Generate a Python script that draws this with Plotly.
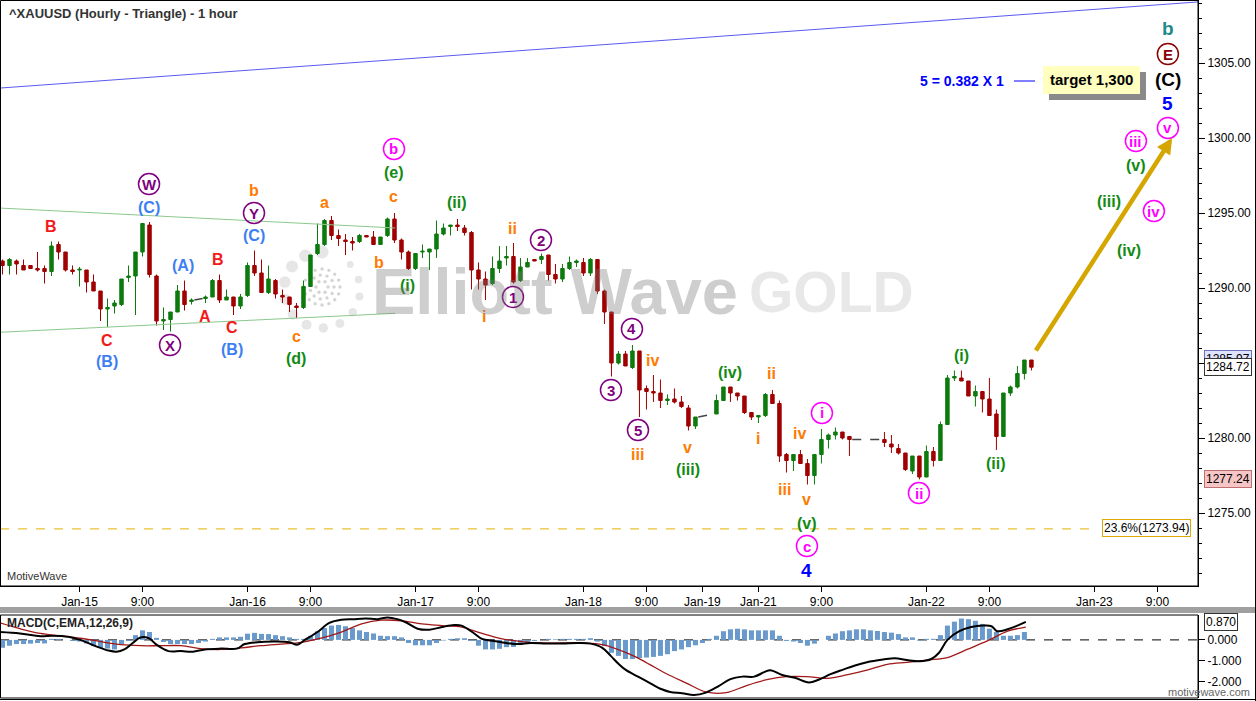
import math
import plotly.graph_objects as go

W, H = 1256, 701

# ---------------- DATA ----------------
bar_index = [0, 1, 2, 3, 4, 5, 6, 7, 8, 9, 10, 11, 12, 13, 14, 15, 16, 17, 18, 19,
             20, 21, 22, 23, 24, 25, 26, 27, 29, 30, 31, 32, 33, 34, 35, 36, 37, 38, 39, 40,
             41, 42, 43, 44, 45, 46, 47, 48, 49, 50, 51, 52, 53, 54, 55, 56, 57, 58, 59, 60,
             61, 62, 63, 64, 65, 66, 67, 68, 69, 70, 71, 72, 73, 74, 75, 76, 77, 78, 79, 80,
             81, 82, 83, 84, 85, 86, 87, 88, 89, 90, 91, 92, 93, 94, 95, 96, 97, 98, 99, 102,
             103, 104, 105, 106, 107, 108, 109, 110, 111, 112, 113, 114, 115, 116, 117, 118, 119, 120, 121, 126,
             127, 128, 129, 130, 131, 132, 133, 134, 135, 136, 137, 138, 139, 140, 141, 142, 143, 144, 145, 146,
             147]
open_ = [1291.8, 1291.5, 1291.8, 1291.5, 1291.5, 1291.3, 1291.3, 1291.1, 1292.9, 1292.4, 1291.2, 1291.2, 1291.2, 1290.4, 1289.8, 1288.6, 1288.8, 1288.9, 1290.7, 1290.8,
         1292.4, 1294.2, 1290.8, 1287.8, 1287.9, 1288.4, 1289.8, 1289.1, 1289.3, 1289.4, 1290.5, 1289.2, 1289.4, 1288.8, 1289.5, 1291.5, 1291.0, 1289.7, 1290.5, 1289.5,
         1289.4, 1288.8, 1288.7, 1290.1, 1292.3, 1292.9, 1294.5, 1293.5, 1293.2, 1293.1, 1293.1, 1293.5, 1293.4, 1292.9, 1293.5, 1294.6, 1293.2, 1292.4, 1291.3, 1292.4,
         1292.4, 1292.6, 1293.6, 1294.1, 1294.2, 1294.0, 1293.7, 1291.2, 1290.6, 1290.3, 1291.3, 1292.0, 1292.1, 1290.5, 1291.4, 1291.9, 1291.9, 1292.2, 1290.9, 1290.6,
         1291.3, 1291.7, 1291.7, 1291.0, 1291.9, 1289.8, 1288.4, 1285.0, 1285.6, 1284.7, 1285.8, 1283.3, 1283.1, 1283.0, 1282.5, 1282.6, 1282.4, 1282.0, 1280.8, 1281.6,
         1282.5, 1283.4, 1283.0, 1282.8, 1281.7, 1281.4, 1281.5, 1282.9, 1282.3, 1278.9, 1278.5, 1278.9, 1278.3, 1277.5, 1278.9, 1279.9, 1280.2, 1280.4, 1280.1, 1279.9,
         1279.6, 1279.3, 1279.0, 1277.8, 1278.8, 1277.4, 1279.1, 1278.5, 1280.9, 1284.0, 1284.0, 1283.8, 1282.8, 1283.1, 1282.6, 1281.6, 1280.1, 1283.0, 1283.4, 1284.3,
         1285.2]
high = [1291.9, 1292.0, 1291.9, 1291.9, 1291.5, 1292.4, 1291.5, 1293.1, 1293.1, 1292.4, 1291.5, 1291.4, 1291.2, 1290.9, 1289.8, 1289.3, 1289.2, 1290.6, 1291.5, 1292.4,
        1294.3, 1294.4, 1290.9, 1288.7, 1288.4, 1290.2, 1290.5, 1289.3, 1289.5, 1290.6, 1290.9, 1289.9, 1289.4, 1289.6, 1291.7, 1292.5, 1291.9, 1291.5, 1290.6, 1289.9,
        1289.4, 1289.0, 1290.5, 1292.2, 1294.3, 1294.6, 1294.8, 1293.9, 1293.6, 1293.4, 1293.6, 1293.5, 1293.8, 1293.4, 1294.7, 1295.0, 1293.3, 1292.5, 1292.3, 1292.9,
        1292.6, 1294.5, 1294.3, 1294.2, 1294.6, 1294.2, 1293.8, 1291.7, 1291.1, 1292.1, 1292.8, 1292.8, 1293.0, 1292.0, 1292.0, 1291.9, 1292.3, 1292.2, 1291.6, 1291.6,
        1292.1, 1291.9, 1292.0, 1292.0, 1291.9, 1289.9, 1288.4, 1285.8, 1285.8, 1286.2, 1285.8, 1283.5, 1284.2, 1283.9, 1282.9, 1283.3, 1282.8, 1282.2, 1281.4, 1282.9,
        1283.4, 1283.4, 1283.0, 1282.8, 1281.7, 1281.5, 1283.0, 1283.2, 1282.5, 1279.0, 1278.9, 1279.2, 1278.6, 1278.9, 1280.6, 1280.3, 1280.7, 1280.4, 1280.1, 1280.4,
        1280.2, 1279.6, 1279.0, 1278.8, 1278.8, 1279.5, 1279.4, 1281.1, 1284.2, 1284.5, 1284.5, 1283.8, 1283.5, 1283.1, 1284.0, 1281.9, 1283.0, 1283.5, 1284.8, 1285.2,
        1285.2]
low = [1290.9, 1290.9, 1290.9, 1291.2, 1291.3, 1291.1, 1290.3, 1290.8, 1291.9, 1291.1, 1290.9, 1290.1, 1289.7, 1289.8, 1287.8, 1287.4, 1288.3, 1288.8, 1290.4, 1288.2,
       1292.1, 1290.7, 1287.5, 1287.2, 1287.1, 1288.4, 1288.5, 1288.9, 1289.0, 1289.4, 1289.0, 1289.2, 1288.2, 1288.6, 1289.4, 1290.8, 1289.7, 1289.6, 1289.3, 1289.0,
       1288.4, 1288.0, 1288.6, 1290.1, 1292.2, 1292.8, 1293.2, 1292.8, 1292.2, 1292.5, 1293.0, 1293.4, 1292.9, 1292.9, 1293.4, 1293.0, 1291.9, 1291.2, 1291.2, 1292.0,
       1291.2, 1292.0, 1293.5, 1293.5, 1293.8, 1293.5, 1289.9, 1289.9, 1289.2, 1290.2, 1291.0, 1291.5, 1290.3, 1290.4, 1291.4, 1291.8, 1291.6, 1290.5, 1290.3, 1290.4,
       1291.2, 1291.4, 1290.8, 1290.8, 1289.6, 1287.6, 1284.1, 1284.9, 1284.8, 1284.6, 1281.4, 1281.9, 1282.4, 1282.0, 1282.2, 1282.3, 1282.0, 1280.5, 1280.6, 1281.6,
       1282.5, 1282.4, 1282.5, 1281.6, 1281.2, 1281.0, 1281.4, 1282.3, 1278.4, 1277.7, 1277.8, 1278.3, 1276.9, 1276.9, 1278.3, 1279.3, 1279.9, 1279.9, 1278.8, 1279.4,
       1279.0, 1278.9, 1277.8, 1277.6, 1277.24, 1277.4, 1278.1, 1278.5, 1280.9, 1283.8, 1283.8, 1282.8, 1282.1, 1281.7, 1281.5, 1279.2, 1280.1, 1282.8, 1283.3, 1283.9,
       1284.5]
close = [1291.5, 1291.9, 1291.6, 1291.2, 1291.3, 1291.2, 1291.1, 1292.8, 1292.4, 1291.2, 1291.1, 1291.25, 1290.4, 1289.8, 1288.6, 1288.7, 1289.0, 1290.6, 1290.8, 1292.4,
         1294.3, 1290.9, 1287.8, 1287.9, 1288.4, 1289.8, 1288.9, 1289.2, 1289.4, 1290.5, 1289.2, 1289.4, 1288.8, 1289.4, 1291.5, 1291.0, 1289.7, 1290.6, 1289.6, 1289.4,
         1288.9, 1288.7, 1290.1, 1292.2, 1292.9, 1294.5, 1293.5, 1293.3, 1293.1, 1293.0, 1293.5, 1293.4, 1292.9, 1293.4, 1294.6, 1293.2, 1292.4, 1291.3, 1292.3, 1292.45,
         1292.6, 1293.6, 1294.0, 1294.2, 1294.1, 1293.7, 1291.2, 1290.6, 1290.2, 1291.3, 1291.8, 1292.1, 1290.4, 1291.4, 1291.7, 1291.8, 1292.1, 1290.9, 1290.6, 1291.3,
         1291.7, 1291.8, 1291.0, 1291.9, 1289.8, 1288.4, 1285.0, 1285.6, 1284.8, 1285.8, 1283.2, 1283.1, 1283.0, 1282.5, 1282.6, 1282.4, 1282.1, 1280.8, 1281.4, 1282.5,
         1283.4, 1283.0, 1282.8, 1281.7, 1281.4, 1281.5, 1282.9, 1282.3, 1278.8, 1278.5, 1278.9, 1278.3, 1277.5, 1278.9, 1279.9, 1280.2, 1280.4, 1280.0, 1279.9, 1279.7,
         1279.4, 1279.0, 1277.9, 1278.8, 1277.4, 1279.1, 1278.5, 1280.9, 1284.0, 1284.1, 1283.8, 1282.8, 1283.1, 1282.6, 1281.5, 1280.1, 1283.0, 1283.4, 1284.3, 1285.2,
         1284.72]

# missing-bar gaps (bar before gap, bar after gap)
gap_pairs = [(27, 29), (99, 102), (121, 126)]

# MACD histogram (one value per bar 0..146)
macd_hist = [-0.38, -0.28, -0.2, -0.2, -0.18, -0.15, -0.17, 0.05, 0.05, 0.0,
             -0.05, -0.08, -0.17, -0.3, -0.38, -0.42, -0.46, -0.2, -0.05, 0.23,
             0.46, 0.38, 0.1, -0.1, -0.2, -0.2, -0.2, -0.2, -0.15, -0.08,
             0.05, 0.12, 0.12, 0.12, 0.15, 0.3, 0.34, 0.29, 0.28, 0.23,
             0.18, 0.12, 0.05, 0.05, 0.2, 0.42, 0.57, 0.69, 0.72, 0.66,
             0.57, 0.46, 0.38, 0.31, 0.2, 0.18, 0.18, 0.12, -0.15, -0.26,
             -0.26, -0.26, -0.15, -0.03, 0.05, 0.08, 0.08, -0.05, -0.28, -0.46,
             -0.46, -0.43, -0.35, -0.34, -0.23, -0.15, -0.05, 0.0, 0.05, 0.03,
             0.05, 0.05, 0.05, 0.05, 0.08, -0.08, -0.3, -0.62, -0.77, -0.92,
             -0.92, -0.88, -0.85, -0.82, -0.77, -0.69, -0.54, -0.46, -0.35, -0.26,
             -0.15, 0.05, 0.2, 0.42, 0.51, 0.54, 0.51, 0.46, 0.46, 0.46,
             0.46, 0.2, -0.05, -0.08, -0.15, -0.28, -0.18, 0.0, 0.2, 0.31,
             0.42, 0.46, 0.51, 0.51, 0.46, 0.43, 0.38, 0.35, 0.28, 0.12,
             0.12, -0.03, 0.05, 0.05, 0.23, 0.69, 0.88, 1.03, 1.0, 0.92,
             0.77, 0.54, 0.38, 0.2, 0.2, 0.23, 0.38]

macd_x = [-0.36, 2.5, 5.4, 7.1, 9.4, 11.1, 13.4, 15.1, 16.3, 17.4, 18.6, 19.7, 20.9, 22.0, 23.7,
          25.5, 27.2, 28.9, 31.2, 33.5, 34.6, 36.4, 38.7, 41.0, 42.1, 43.2, 45.0, 46.7, 48.4, 50.1,
          51.9, 53.6, 55.0, 56.4, 57.6, 59.3, 61.0, 62.8, 64.5, 65.6, 67.4, 68.5, 70.2, 72.0, 73.7,
          75.4, 77.7, 80.0, 82.3, 84.0, 85.7, 86.9, 88.0, 89.1, 90.8, 92.5, 94.2, 95.4, 97.1, 98.8,
          100.5, 102.3, 104.0, 105.7, 107.4, 108.9, 109.7, 111.4, 113.2, 115.2, 116.6, 118.3, 120.1, 121.8, 123.5,
          125.8, 127.5, 129.2, 131.0, 132.7, 133.8, 135.0, 136.7, 138.4, 140.1, 141.3, 142.1, 143.6, 145.0, 146.2]
macd_line = [0.38, 0.31, 0.18, 0.2, 0.15, 0.0, -0.31, -0.51, -0.57, -0.46, -0.15, 0.12, 0.08, -0.23, -0.54,
             -0.54, -0.57, -0.46, -0.42, -0.42, -0.2, -0.11, -0.08, -0.11, -0.23, 0.0, 0.38, 0.82, 0.97, 1.0,
             1.03, 1.0, 1.08, 1.0, 0.85, 0.54, 0.49, 0.62, 0.72, 0.69, 0.31, 0.05, -0.05, -0.15, -0.2,
             -0.15, -0.17, -0.17, -0.15, -0.18, -0.38, -0.77, -1.15, -1.46, -1.77, -2.08, -2.38, -2.51, -2.57, -2.66,
             -2.54, -2.23, -1.89, -1.77, -1.77, -1.54, -1.46, -1.69, -1.82, -2.05, -1.92, -1.65, -1.43, -1.23, -1.08,
             -0.95, -0.88, -0.97, -1.03, -0.92, -0.62, 0.0, 0.42, 0.62, 0.69, 0.66, 0.42, 0.51, 0.69, 0.87]

signal_x = [-0.36, 2.5, 5.4, 8.2, 11.1, 14.0, 16.9, 19.7, 22.6, 25.5, 28.3, 31.2, 34.1, 36.9, 39.8,
            42.7, 45.5, 48.4, 51.3, 54.1, 57.0, 59.9, 62.8, 65.6, 68.5, 71.4, 74.2, 77.1, 80.0, 82.8,
            85.7, 89.6, 91.9, 94.8, 97.7, 100.5, 103.4, 106.3, 109.2, 112.0, 114.9, 117.8, 120.6, 123.5, 126.4,
            129.2, 132.1, 135.0, 137.8, 140.7, 143.6, 146.2]
signal_line = [0.82, 0.54, 0.31, 0.2, 0.08, -0.08, -0.23, -0.28, -0.28, -0.28, -0.42, -0.46, -0.38, -0.28, -0.2,
               -0.12, 0.08, 0.38, 0.77, 0.95, 0.92, 0.77, 0.69, 0.62, 0.31, 0.05, -0.08, -0.15, -0.15, -0.15,
               -0.23, -0.69, -1.08, -1.62, -2.08, -2.51, -2.54, -2.2, -1.92, -1.77, -1.77, -1.85, -1.69, -1.46, -1.18,
               -1.08, -0.97, -0.85, -0.46, -0.05, 0.42, 0.62]

tick_pos = [11, 20, 35, 44, 59, 68, 83, 92, 100, 108, 117, 132, 141, 156, 165]
tick_text = ["Jan-15", "9:00", "Jan-16", "9:00", "Jan-17", "9:00", "Jan-18", "9:00",
             "Jan-19", "Jan-21", "9:00", "Jan-22", "9:00", "Jan-23", "9:00"]
price_ticks = [1275, 1280, 1285, 1290, 1295, 1300, 1305]
price_minor = [1271, 1272, 1273, 1274, 1276, 1277, 1278, 1279, 1281, 1282, 1283, 1284, 1286, 1287, 1288, 1289,
               1291, 1292, 1293, 1294, 1296, 1297, 1298, 1299, 1301, 1302, 1303, 1304, 1306, 1307, 1308, 1309]
macd_ticks = [0, -1, -2]

# trend lines (bar index, price)
blue_line_x, blue_line_y = [-0.36, 170.8], [1303.33, 1309.07]
upper_tl_x, upper_tl_y = [-0.36, 56.1], [1295.33, 1294.0]
lower_tl_x, lower_tl_y = [-0.36, 56.1], [1287.05, 1288.31]
fib_level = 1273.94
fib_end = 156.5
target_arrow = ((147.5, 1285.73), (167.1, 1300.0))
last_price = 1284.72
marker_low = 1277.24
macd_last = 0.870

# wave labels: text, bar index, price, colour key, circled, size
wave_labels = [
    ("B", 6.93, 1294.07, "red", False, 16), ("C", 14.93, 1286.53, "red", False, 16),
    ("(B)", 14.93, 1285.07, "lblue", False, 16), ("W", 20.93, 1296.93, "purple", True, 15),
    ("(C)", 20.93, 1295.4, "lblue", False, 16), ("(A)", 25.79, 1291.47, "lblue", False, 16),
    ("X", 23.93, 1286.2, "purple", True, 15), ("B", 30.79, 1291.93, "red", False, 16),
    ("A", 28.93, 1288.07, "red", False, 16), ("C", 32.79, 1287.4, "red", False, 16),
    ("(B)", 32.79, 1285.93, "lblue", False, 16), ("b", 35.93, 1296.47, "orange", False, 16),
    ("Y", 35.93, 1295.0, "purple", True, 15), ("(C)", 35.93, 1293.53, "lblue", False, 16),
    ("a", 45.93, 1295.73, "orange", False, 16), ("c", 41.93, 1286.8, "orange", False, 16),
    ("(d)", 41.93, 1285.33, "green", False, 16), ("b", 55.93, 1299.27, "magenta", True, 15),
    ("(e)", 55.93, 1297.73, "green", False, 16), ("c", 55.93, 1296.13, "orange", False, 16),
    ("b", 53.79, 1291.73, "orange", False, 16), ("(i)", 57.93, 1290.2, "green", False, 16),
    ("(ii)", 64.93, 1295.73, "green", False, 16), ("i", 68.79, 1288.13, "orange", False, 16),
    ("ii", 72.93, 1294.0, "orange", False, 16), ("1", 72.93, 1289.4, "purple", True, 15),
    ("2", 76.93, 1293.2, "purple", True, 15), ("3", 86.93, 1283.2, "purple", True, 15),
    ("4", 89.93, 1287.27, "purple", True, 15), ("iv", 92.93, 1285.2, "orange", False, 16),
    ("5", 90.79, 1280.53, "purple", True, 15), ("iii", 90.79, 1278.87, "orange", False, 16),
    ("v", 97.93, 1279.4, "orange", False, 16), ("(iii)", 97.93, 1277.93, "green", False, 16),
    ("(iv)", 103.93, 1284.4, "green", False, 16), ("ii", 109.93, 1284.33, "orange", False, 16),
    ("i", 107.93, 1280.0, "orange", False, 16), ("iii", 111.79, 1276.6, "orange", False, 16),
    ("iv", 113.93, 1280.33, "orange", False, 16), ("v", 114.93, 1275.87, "orange", False, 16),
    ("(v)", 114.93, 1274.27, "green", False, 16), ("c", 114.93, 1272.8, "magenta", True, 15),
    ("4", 114.93, 1271.2, "blue", False, 19), ("i", 117.07, 1281.67, "magenta", True, 15),
    ("ii", 130.93, 1276.33, "magenta", True, 15), ("(i)", 137.07, 1285.53, "green", False, 16),
    ("(ii)", 141.93, 1278.33, "green", False, 16), ("iii", 161.93, 1299.8, "magenta", True, 15),
    ("(v)", 161.93, 1298.2, "green", False, 16), ("(iii)", 158.07, 1295.8, "green", False, 16),
    ("iv", 164.5, 1295.13, "magenta", True, 15), ("(iv)", 160.93, 1292.47, "green", False, 16),
    ("b", 166.5, 1307.33, "teal", False, 19), ("E", 166.5, 1305.6, "darkred", True, 15),
    ("(C)", 166.5, 1303.87, "black", False, 19), ("5", 166.5, 1302.27, "blue", False, 19),
    ("v", 166.5, 1300.67, "magenta", True, 15),
]

# ---------------- STYLE ----------------
COL = {"red": "#f21a1a", "lblue": "#3d7ff2", "purple": "#800080", "orange": "#ff7a00",
       "green": "#128a12", "magenta": "#ff00ff", "blue": "#0000ff", "teal": "#1e8a8a",
       "darkred": "#8b0000", "black": "#000000"}
UP, DOWN = "#0d7a0d", "#a00000"
FONT = "Liberation Sans, Arial, sans-serif"

X_RANGE = [-0.36, 170.8]
PLOT_R = 1198
MAIN_BOT = 586
MACD_TOP, MACD_BOT = 615, 698


def px(x):
    return x / W


def py(y):
    return 1 - y / H


def paper_text(x, y, text, size=12, color="#000", xanchor="center", **kw):
    d = dict(x=px(x), y=py(y), xref="paper", yref="paper", text=text, showarrow=False,
             xanchor=xanchor, yanchor="middle", font=dict(family=FONT, size=size, color=color))
    d.update(kw)
    return d


fig = go.Figure()

# trend lines
fig.add_trace(go.Scatter(x=blue_line_x, y=blue_line_y, mode="lines",
                         line=dict(color="#5a5af0", width=1), hoverinfo="skip"))
fig.add_trace(go.Scatter(x=upper_tl_x, y=upper_tl_y, mode="lines",
                         line=dict(color="#8cc88c", width=1), hoverinfo="skip"))
fig.add_trace(go.Scatter(x=lower_tl_x, y=lower_tl_y, mode="lines",
                         line=dict(color="#8cc88c", width=1), hoverinfo="skip"))
fig.add_trace(go.Scatter(x=[X_RANGE[0], fib_end], y=[fib_level, fib_level], mode="lines",
                         line=dict(color="#e6b000", width=1, dash="dash"), hoverinfo="skip"))

# gap dashes
pos = {b: k for k, b in enumerate(bar_index)}
for a, b in gap_pairs:
    fig.add_trace(go.Scatter(x=[a + 0.4, b - 0.4], y=[close[pos[a]], open_[pos[b]]], mode="lines",
                             line=dict(color="#444444", width=1.5, dash="dash"), hoverinfo="skip"))

fig.add_trace(go.Candlestick(
    x=bar_index, open=open_, high=high, low=low, close=close,
    increasing=dict(line=dict(color=UP, width=1), fillcolor=UP),
    decreasing=dict(line=dict(color=DOWN, width=1), fillcolor=DOWN),
    whiskerwidth=0, hoverinfo="skip"))

# MACD
fig.add_trace(go.Bar(x=list(range(len(macd_hist))), y=macd_hist, marker_color="#6a9acb",
                     marker_line_width=0, width=0.72, xaxis="x2", yaxis="y2", hoverinfo="skip"))
fig.add_trace(go.Scatter(x=signal_x, y=signal_line, mode="lines", line=dict(color="#a01818", width=1.3, shape="spline"),
                         xaxis="x2", yaxis="y2", hoverinfo="skip"))
fig.add_trace(go.Scatter(x=macd_x, y=macd_line, mode="lines", line=dict(color="#000000", width=2, shape="spline"),
                         xaxis="x2", yaxis="y2", hoverinfo="skip"))

shapes = []
annotations = []

# zero line for MACD
shapes.append(dict(type="line", xref="x2", yref="y2", x0=X_RANGE[0], x1=X_RANGE[1], y0=0, y1=0,
                   line=dict(color="#000", width=1, dash="dash"), layer="below"))

# frames
shapes.append(dict(type="rect", xref="paper", yref="paper", x0=px(0.5), x1=px(PLOT_R), y0=py(MAIN_BOT), y1=py(0.5),
                   line=dict(color="#000", width=1)))
shapes.append(dict(type="rect", xref="paper", yref="paper", x0=px(0.5), x1=px(PLOT_R), y0=py(MACD_BOT), y1=py(MACD_TOP),
                   line=dict(color="#000", width=1)))
shapes.append(dict(type="rect", xref="paper", yref="paper", x0=0, x1=1, y0=py(613), y1=py(607),
                   fillcolor="#a0a0a0", line=dict(width=0)))
shapes.append(dict(type="line", xref="paper", yref="paper", x0=px(1255.5), x1=px(1255.5), y0=0, y1=1,
                   line=dict(color="#000", width=1)))
shapes.append(dict(type="line", xref="paper", yref="paper", x0=0, x1=1, y0=py(699.5), y1=py(699.5),
                   line=dict(color="#000", width=1)))

# spiral logo (decoration)
cx, cy = 322, 290
for k in range(13):
    ang = math.radians(90 + k * 26)
    r = 6.5 - k * 0.25
    x = cx + 38 * math.cos(ang)
    y = cy - 38 * math.sin(ang)
    shapes.append(dict(type="circle", xref="paper", yref="paper", xsizemode="pixel", ysizemode="pixel",
                       xanchor=px(x), yanchor=py(y), x0=-r, x1=r, y0=-r, y1=r,
                       fillcolor="rgba(200,200,200,0.45)", line=dict(width=0), layer="below"))
for ring, n in ((6, 6), (12, 11), (18, 16)):
    for k in range(n):
        ang = 2 * math.pi * k / n
        x = cx + ring * math.cos(ang)
        y = cy - 3 + ring * math.sin(ang)
        shapes.append(dict(type="circle", xref="paper", yref="paper", xsizemode="pixel", ysizemode="pixel",
                           xanchor=px(x), yanchor=py(y), x0=-1.7, x1=1.7, y0=-1.7, y1=1.7,
                           fillcolor="rgba(170,170,170,0.5)", line=dict(width=0), layer="below"))

# wave labels
for text, xi, yp, ck, circ, sz in wave_labels:
    c = COL[ck]
    annotations.append(dict(x=xi, y=yp, xref="x", yref="y", text="<b>%s</b>" % text, showarrow=False,
                            font=dict(family=FONT, size=sz, color=c), xanchor="center", yanchor="middle"))
    if circ:
        shapes.append(dict(type="circle", xref="x", yref="y", xsizemode="pixel", ysizemode="pixel",
                           xanchor=xi, yanchor=yp, x0=-10.5, x1=10.5, y0=-10.5, y1=10.5,
                           line=dict(color=c, width=1.5)))

# target arrow
(ax0, ay0), (ax1, ay1) = target_arrow
annotations.append(dict(x=ax1, y=ay1, ax=ax0, ay=ay0, xref="x", yref="y", axref="x", ayref="y",
                        text="", showarrow=True, arrowhead=2, arrowsize=0.7, arrowwidth=4.5,
                        arrowcolor="#d6a600"))

# target box with shadow
shapes.append(dict(type="rect", xref="paper", yref="paper", x0=px(1049), x1=px(1146), y0=py(100), y1=py(72),
                   fillcolor="#8a8a8a", line=dict(width=0)))
shapes.append(dict(type="rect", xref="paper", yref="paper", x0=px(1043), x1=px(1140), y0=py(94), y1=py(66),
                   fillcolor="#ffffc0", line=dict(width=0)))
annotations.append(paper_text(1091.5, 80, "<b>target 1,300</b>", size=15))
annotations.append(paper_text(1006, 81, "<b>5 = 0.382 X 1</b>", size=14, color="#0000ff", xanchor="right"))
shapes.append(dict(type="line", xref="paper", yref="paper", x0=px(1014), x1=px(1035), y0=py(81), y1=py(81),
                   line=dict(color="#0000ff", width=1)))

# fib label
annotations.append(paper_text(1146, 528, "23.6%(1273.94)", size=12,
                              bgcolor="#ffffff", bordercolor="#e0a800", borderwidth=1, borderpad=1))

# title, watermark, etc.
annotations.append(paper_text(7, 13, "<b>^XAUUSD (Hourly - Triangle) - 1 hour</b>", size=13, color="#333333",
                              xanchor="left"))
WM_FONT = "Liberation Sans, Arial, sans-serif"
annotations.append(dict(x=px(370), y=py(292), xref="paper", yref="paper", xanchor="left", yanchor="middle",
                        text="<b>Elliott Wave</b>", showarrow=False,
                        font=dict(family=WM_FONT, size=65, color="rgba(120,120,120,0.36)")))
annotations.append(dict(x=px(916), y=py(292), xref="paper", yref="paper", xanchor="right", yanchor="middle",
                        text="<b>GOLD</b>", showarrow=False,
                        font=dict(family=WM_FONT, size=57, color="rgba(140,140,140,0.2)")))
annotations.append(paper_text(5, 576, "MotiveWave", size=11, color="#333", xanchor="left"))
annotations.append(paper_text(5, 623, "<b>MACD(C,EMA,12,26,9)</b>", size=12, color="#222", xanchor="left"))
annotations.append(paper_text(1252, 692, "motivewave.com", size=11, color="#666", xanchor="right"))

# price axis markers
annotations.append(paper_text(1204, 359, "1285.97", size=12, xanchor="left",
                              bgcolor="#dfe3fb", bordercolor="#7070c0", borderwidth=1, borderpad=1))
annotations.append(dict(x=px(1204), y=last_price, xref="paper", yref="y", xanchor="left", yanchor="middle",
                        text="%.2f" % last_price, showarrow=False, font=dict(family=FONT, size=12, color="#000"),
                        bgcolor="#ffffff", bordercolor="#333", borderwidth=1, borderpad=1))
annotations.append(dict(x=px(1204), y=marker_low, xref="paper", yref="y", xanchor="left", yanchor="middle",
                        text="%.2f" % marker_low, showarrow=False, font=dict(family=FONT, size=12, color="#000"),
                        bgcolor="#f6c6c6", bordercolor="#c07070", borderwidth=1, borderpad=1))
annotations.append(dict(x=px(1204), y=macd_last, xref="paper", yref="y2", xanchor="left", yanchor="middle",
                        text="%.3f" % macd_last, showarrow=False, font=dict(family=FONT, size=12, color="#000"),
                        bgcolor="#ffffff", bordercolor="#333", borderwidth=1, borderpad=1))

fig.update_layout(
    width=W, height=H, margin=dict(l=0, r=0, t=0, b=0),
    paper_bgcolor="#ffffff", plot_bgcolor="#ffffff", showlegend=False,
    font=dict(family=FONT, size=12, color="#000"),
    xaxis=dict(domain=[0, px(PLOT_R)], range=X_RANGE, anchor="y", tickvals=tick_pos, ticktext=tick_text,
               ticks="outside", ticklen=5, tickcolor="#000", showgrid=False, zeroline=False,
               showline=True, linecolor="#000", rangeslider=dict(visible=False),
               tickfont=dict(family=FONT, size=12, color="#000")),
    yaxis=dict(domain=[py(MAIN_BOT), 1], range=[1300 - (MAIN_BOT - 138) / 15, 1300 + 138 / 15],
               side="right", anchor="x", tickvals=price_ticks, ticktext=["%.2f" % v for v in price_ticks],
               ticks="outside", ticklen=6, tickcolor="#000", showgrid=False, zeroline=False,
               showline=True, linecolor="#000", tickfont=dict(family=FONT, size=12, color="#000"),
               minor=dict(tickvals=price_minor, ticks="outside", ticklen=3, tickcolor="#000", showgrid=False)),
    xaxis2=dict(domain=[0, px(PLOT_R)], range=X_RANGE, anchor="y2", showticklabels=False, ticks="",
                showgrid=False, zeroline=False, showline=False),
    yaxis2=dict(domain=[py(MACD_BOT), py(MACD_TOP)], range=[-2.8, 1.2], side="right", anchor="x2",
                tickvals=macd_ticks, ticktext=["%.3f" % v for v in macd_ticks], ticks="outside", ticklen=6,
                tickcolor="#000", showgrid=False, zeroline=False, showline=True, linecolor="#000",
                tickfont=dict(family=FONT, size=12, color="#000")),
    shapes=shapes, annotations=annotations, bargap=0.25,
)

fig.write_html("out.html", config={"displayModeBar": False, "staticPlot": True},
               post_script="document.body.style.margin='0px';document.body.style.overflow='hidden';")
